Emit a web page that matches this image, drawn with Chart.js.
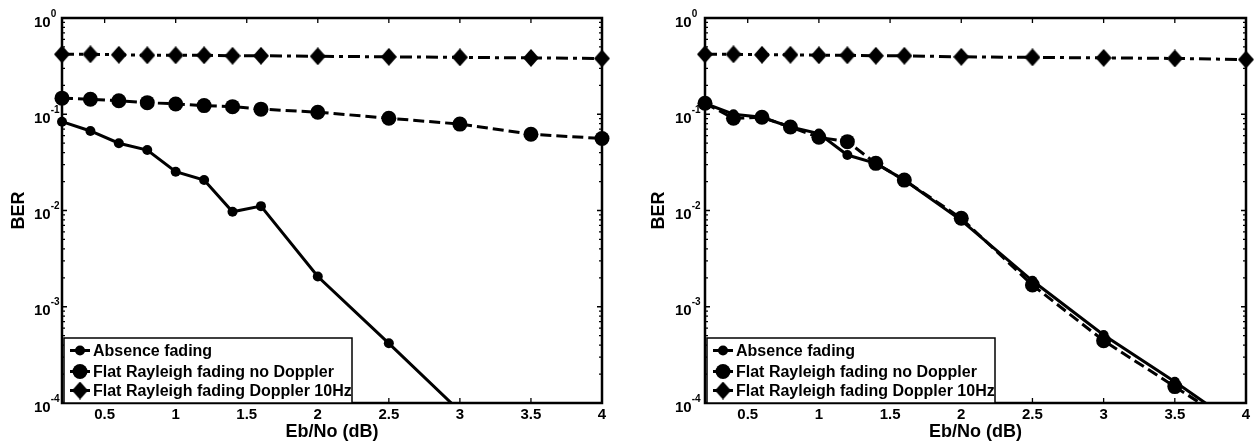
<!DOCTYPE html>
<html>
<head>
<meta charset="utf-8">
<script src="https://cdn.jsdelivr.net/npm/chart.js@4.4.1/dist/chart.umd.min.js"></script>
<style>
html,body{margin:0;padding:0;background:#fff;width:1254px;height:444px;overflow:hidden}
.wrap{position:absolute;top:0;width:627px;height:444px}
canvas{display:block}
</style>
</head>
<body>
<div class="wrap" style="left:0"><canvas id="c1" width="627" height="444"></canvas></div>
<div class="wrap" style="left:627px"><canvas id="c2" width="627" height="444"></canvas></div>
<script>
// ---- data ----
const xValues = [0.2, 0.4, 0.6, 0.8, 1.0, 1.2, 1.4, 1.6, 2.0, 2.5, 3.0, 3.5, 4.0];
const seriesLabels = ['Absence fading', 'Flat Rayleigh fading no Doppler', 'Flat Rayleigh fading Doppler 10Hz'];

const leftAbsence   = [0.0837, 0.067, 0.050, 0.0425, 0.0253, 0.0207, 0.0097, 0.0111, 0.00206, 0.000417, 0.000082, null, null];
const leftNoDoppler = [0.147, 0.143, 0.138, 0.132, 0.128, 0.123, 0.120, 0.113, 0.105, 0.091, 0.079, 0.062, 0.056];
const leftDoppler10 = [0.42, 0.42, 0.415, 0.41, 0.41, 0.41, 0.405, 0.405, 0.40, 0.395, 0.39, 0.385, 0.38];

const rightAbsence   = [0.13, 0.100, 0.093, 0.0737, 0.063, 0.0377, 0.0309, 0.0207, 0.0079, 0.00186, 0.000508, 0.000166, 0.000051];
const rightNoDoppler = [0.13, 0.0908, 0.093, 0.0737, 0.0576, 0.0519, 0.0309, 0.0207, 0.0083, 0.00168, 0.000444, 0.000148, 0.000049];
const rightDoppler10 = [0.42, 0.42, 0.415, 0.415, 0.41, 0.41, 0.405, 0.405, 0.395, 0.39, 0.385, 0.38, 0.37];

const xTickValues = [0.5, 1, 1.5, 2, 2.5, 3, 3.5, 4];
const yTickValues = [1, 0.1, 0.01, 0.001, 0.0001];
const yTickExponents = ['0', '-1', '-2', '-3', '-4'];
const xAxisLabel = 'Eb/No (dB)';
const yAxisLabel = 'BER';

// ---- styling ----
const FONT = "'Liberation Sans', Arial, Helvetica, sans-serif";

function makeDiamond() {
  const c = document.createElement('canvas');
  c.width = 16; c.height = 18;
  const g = c.getContext('2d');
  g.fillStyle = '#000';
  g.beginPath();
  g.moveTo(8, 0); g.lineTo(16, 9); g.lineTo(8, 18); g.lineTo(0, 9);
  g.closePath(); g.fill();
  return c;
}
const diamond = makeDiamond();

const framePlugin = {
  id: 'frame',
  beforeDatasetsDraw(chart, args, opts) {
    const {ctx, chartArea: a, scales: {x, y}} = chart;
    ctx.save();
    ctx.strokeStyle = '#000';
    ctx.setLineDash([]);
    ctx.lineWidth = 1.3;
    ctx.beginPath();
    xTickValues.forEach(v => {
      const px = x.getPixelForValue(v);
      ctx.moveTo(px, a.bottom); ctx.lineTo(px, a.bottom - 5);
      ctx.moveTo(px, a.top); ctx.lineTo(px, a.top + 5);
    });
    for (let e = -4; e < 0; e++) {
      for (let m = 1; m < 10; m++) {
        const py = y.getPixelForValue(m * Math.pow(10, e));
        const len = m === 1 ? 5 : 3;
        ctx.moveTo(a.left, py); ctx.lineTo(a.left + len, py);
        ctx.moveTo(a.right, py); ctx.lineTo(a.right - len, py);
      }
    }
    ctx.stroke();
    ctx.lineWidth = 2.5;
    ctx.strokeRect(a.left, a.top, a.right - a.left, a.bottom - a.top);
    // y tick labels 10^k
    ctx.fillStyle = '#000';
    ctx.textAlign = 'left';
    ctx.textBaseline = 'alphabetic';
    yTickValues.forEach((v, i) => {
      const py = y.getPixelForValue(v);
      const x0 = a.left - opts.labelOffset;
      ctx.font = 'bold 15px ' + FONT;
      ctx.fillText('10', x0, py + 8.5);
      const w = ctx.measureText('10').width;
      ctx.font = 'bold 10px ' + FONT;
      ctx.fillText(yTickExponents[i], x0 + w, py - 1.5);
    });
    ctx.restore();
  },
  afterDatasetsDraw(chart) {
    const {ctx, chartArea: a} = chart;
    const L = a.left + 2, T = a.bottom - 65, W = 288, H = 65;
    ctx.save();
    ctx.fillStyle = '#fff';
    ctx.fillRect(L, T, W, H);
    ctx.strokeStyle = '#000';
    ctx.lineWidth = 1.5;
    ctx.setLineDash([]);
    ctx.strokeRect(L, T, W, H);
    const rows = [a.bottom - 52.5, a.bottom - 31.5, a.bottom - 12.5];
    chart.data.datasets.forEach((ds, i) => {
      const yy = rows[i];
      ctx.lineWidth = 3;
      ctx.beginPath(); ctx.moveTo(L + 6, yy); ctx.lineTo(L + 26, yy); ctx.stroke();
      ctx.fillStyle = '#000';
      if (ds.pointStyle === 'circle') {
        ctx.beginPath(); ctx.arc(L + 16, yy, ds.pointRadius, 0, Math.PI * 2); ctx.fill();
      } else {
        ctx.drawImage(diamond, L + 16 - diamond.width / 2, yy - diamond.height / 2);
      }
      ctx.font = 'bold 16px ' + FONT;
      ctx.textBaseline = 'middle';
      ctx.textAlign = 'left';
      ctx.fillText(ds.label, L + 29, yy + 1);
    });
    ctx.restore();
  }
};

function pts(arr) { return xValues.map((x, i) => ({x: x, y: arr[i]})); }

function makeChart(id, absence, noDop, dop, cfg) {
  const clip = {left: 12, right: 12, top: 12, bottom: 0};
  return new Chart(document.getElementById(id), {
    type: 'line',
    data: {
      datasets: [
        {label: seriesLabels[0], data: pts(absence), borderColor: '#000', backgroundColor: '#000',
         borderWidth: 3, pointStyle: 'circle', pointRadius: 5, pointBorderWidth: 0,
         pointBackgroundColor: '#000', tension: 0, clip: clip, spanGaps: false},
        {label: seriesLabels[1], data: pts(noDop), borderColor: '#000', backgroundColor: '#000',
         borderWidth: 3, borderDash: [11, 5], pointStyle: 'circle', pointRadius: 7.5, pointBorderWidth: 0,
         pointBackgroundColor: '#000', tension: 0, clip: clip},
        {label: seriesLabels[2], data: pts(dop), borderColor: '#000', backgroundColor: '#000',
         borderWidth: 3, borderDash: [12, 5, 4, 5], pointStyle: diamond, pointRadius: 8, pointBorderWidth: 0,
         pointBackgroundColor: '#000', tension: 0, clip: clip}
      ]
    },
    options: {
      responsive: false,
      animation: false,
      events: [],
      layout: {padding: {top: 18, right: cfg.padRight, left: 0, bottom: 0}},
      plugins: {
        legend: {display: false},
        tooltip: {enabled: false},
        frame: {labelOffset: cfg.labelOffset}
      },
      scales: {
        x: {
          type: 'linear', position: 'bottom', min: 0.2, max: 4,
          grid: {display: false, drawTicks: false},
          border: {display: false},
          afterBuildTicks: s => { s.ticks = xTickValues.map(v => ({value: v})); },
          afterFit: s => { s.height = 41; },
          ticks: {
            color: '#000', padding: 3, maxRotation: 0, autoSkip: false,
            font: {family: FONT, size: 15, weight: 'bold'},
            callback: v => String(v)
          },
          title: {display: true, text: xAxisLabel, color: '#000',
                  font: {family: FONT, size: 18, weight: 'bold'}, padding: {top: 0, bottom: 1.5}}
        },
        y: {
          type: 'logarithmic', min: 0.0001, max: 1,
          grid: {display: false, drawTicks: false},
          border: {display: false},
          ticks: {display: false},
          afterFit: s => { s.width = cfg.yWidth; },
          title: {display: true, text: yAxisLabel, color: '#000',
                  font: {family: FONT, size: 18, weight: 'bold'}, padding: {top: cfg.titlePad, bottom: 0}}
        }
      }
    },
    plugins: [framePlugin]
  });
}

makeChart('c1', leftAbsence, leftNoDoppler, leftDoppler10, {padRight: 25, yWidth: 62, titlePad: 8, labelOffset: 28});
makeChart('c2', rightAbsence, rightNoDoppler, rightDoppler10, {padRight: 8, yWidth: 78, titlePad: 21, labelOffset: 30});
</script>
</body>
</html>
